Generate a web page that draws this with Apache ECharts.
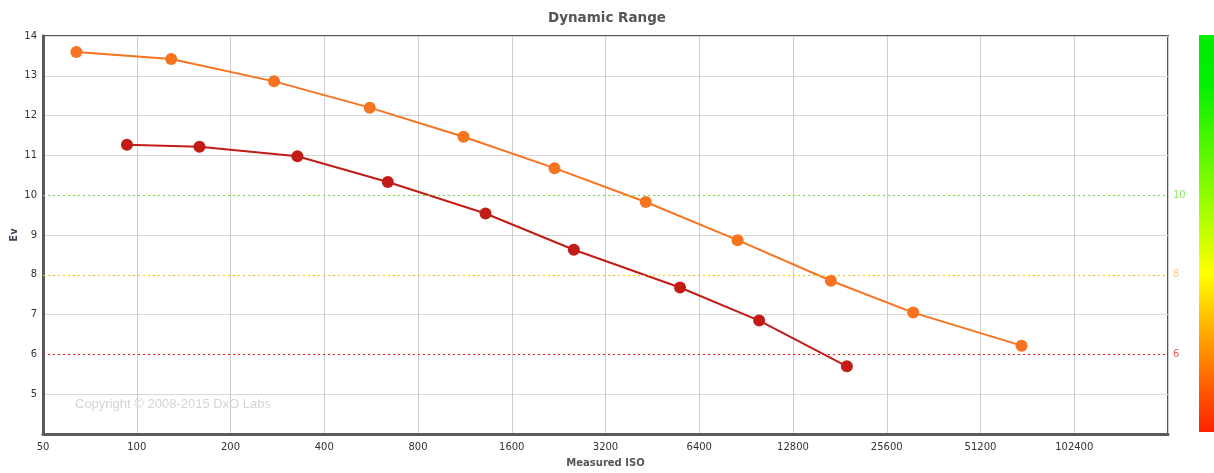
<!DOCTYPE html>
<html><head><meta charset="utf-8">
<script src="https://cdn.jsdelivr.net/npm/echarts@6/dist/echarts.min.js"></script>
<style>html,body{margin:0;padding:0;background:#fff}#c{width:1214px;height:473px}</style>
</head><body><div id="c"></div>
<script>
// X tick labels (ISO, one per octave from 50)
const isoTicks = [50, 100, 200, 400, 800, 1600, 3200, 6400, 12800, 25600, 51200, 102400, 204800];
// Orange series
const orangeISO = [64, 129, 276, 560, 1120, 2195, 4311, 8498, 16935, 31130, 69360];
const orangeEV  = [13.60, 13.42, 12.86, 12.20, 11.47, 10.68, 9.83, 8.87, 7.85, 7.05, 6.22];
// Red series
const redISO = [93, 159, 328, 640, 1318, 2532, 5552, 9968, 19065];
const redEV  = [11.27, 11.22, 10.98, 10.33, 9.54, 8.63, 7.68, 6.85, 5.70];
// Threshold lines
const thresholdValues = [10, 8, 6];
const thresholdColors = ['#6cdc30', '#f0bf10', '#ee1111'];
const thresholdLabelColors = ['#8ee860', '#fdc98a', '#e85a5a'];

const FONT = 'DejaVu Sans';
const base = isoTicks[0];
const toX = iso => Math.log2(iso / base);
const pairs = (xs, ys) => xs.map((v, i) => [toX(v), ys[i]]);

// horizontal split line colours: hide the grey line where a threshold line lies
const yMin = 4, yMax = 14;
const hColors = [];
for (let v = yMin; v <= yMax; v++) hColors.push(thresholdValues.includes(v) ? 'rgba(0,0,0,0)' : '#d9d9d9');

const chart = echarts.init(document.getElementById('c'), null, {renderer: 'canvas'});
chart.setOption({
  animation: false,
  backgroundColor: '#fff',
  title: {
    text: 'Dynamic Range', left: 'center', top: 6,
    textStyle: {fontFamily: FONT, fontSize: 13.5, fontWeight: 'bold', color: '#555'}
  },
  grid: {left: 43, right: 46, top: 36, bottom: 39, show: true, borderColor: '#555', borderWidth: 2,
    backgroundColor: 'transparent', outerBoundsMode: 'none', containLabel: false},
  xAxis: {
    type: 'value', min: 0, max: isoTicks.length - 1, interval: 1,
    name: 'Measured ISO', nameLocation: 'middle', nameGap: 24,
    nameTextStyle: {fontFamily: FONT, fontSize: 10, fontWeight: 'bold', color: '#555'},
    axisLine: {show: true, onZero: false, lineStyle: {color: '#5a5a5a', width: 3}},
    axisTick: {show: false},
    axisLabel: {fontFamily: FONT, fontSize: 10, color: '#333', margin: 8, showMaxLabel: false,
      formatter: v => String(isoTicks[Math.round(v)])},
    splitLine: {show: true, lineStyle: {color: '#cccccc', width: 1}}
  },
  yAxis: {
    type: 'value', min: yMin, max: yMax, interval: 1,
    name: 'Ev', nameLocation: 'middle', nameGap: 24, nameRotate: 90, nameMoveOverlap: false,
    nameTextStyle: {fontFamily: FONT, fontSize: 10, fontWeight: 'bold', color: '#4a3a5e'},
    axisLine: {show: true, onZero: false, lineStyle: {color: '#5a5a5a', width: 3}},
    axisTick: {show: false},
    axisLabel: {fontFamily: FONT, fontSize: 10, color: '#333', margin: 6, showMinLabel: false},
    splitLine: {show: true, lineStyle: {color: hColors, width: 1}}
  },
  graphic: [
    {type: 'text', left: 75, top: 398, z: 0, silent: true,
      style: {text: 'Copyright © 2008-2015 DxO Labs', fill: '#d4d4d4', font: '13px "Liberation Sans", Arial, sans-serif'}},
    {type: 'rect', z: 0, silent: true, shape: {x: 1199, y: 35, width: 15, height: 397},
      style: {fill: new echarts.graphic.LinearGradient(0, 0, 0, 1, [
        {offset: 0, color: '#00ee00'},
        {offset: 0.12, color: '#00f000'},
        {offset: 0.45, color: '#a8ff00'},
        {offset: 0.6, color: '#ffff00'},
        {offset: 0.75, color: '#ffaa00'},
        {offset: 0.9, color: '#ff5500'},
        {offset: 1, color: '#ff2200'}
      ])}}
  ],
  series: [
    {
      name: 'Orange', type: 'line', data: pairs(orangeISO, orangeEV),
      symbol: 'circle', symbolSize: 12, z: 3,
      lineStyle: {color: '#f7731f', width: 2}, itemStyle: {color: '#f7731f'},
      markLine: {
        silent: true, symbol: 'none', animation: false,
        data: thresholdValues.map((v, i) => ({
          yAxis: v,
          lineStyle: {color: thresholdColors[i], type: [2, 3], width: 1, opacity: 1},
          label: {show: true, position: 'end', distance: 5, formatter: String(v),
            fontFamily: FONT, fontSize: 10, color: thresholdLabelColors[i]}
        }))
      }
    },
    {
      name: 'Red', type: 'line', data: pairs(redISO, redEV),
      symbol: 'circle', symbolSize: 12, z: 3,
      lineStyle: {color: '#c21c16', width: 2}, itemStyle: {color: '#c21c16'}
    }
  ]
});
</script>
</body></html>
